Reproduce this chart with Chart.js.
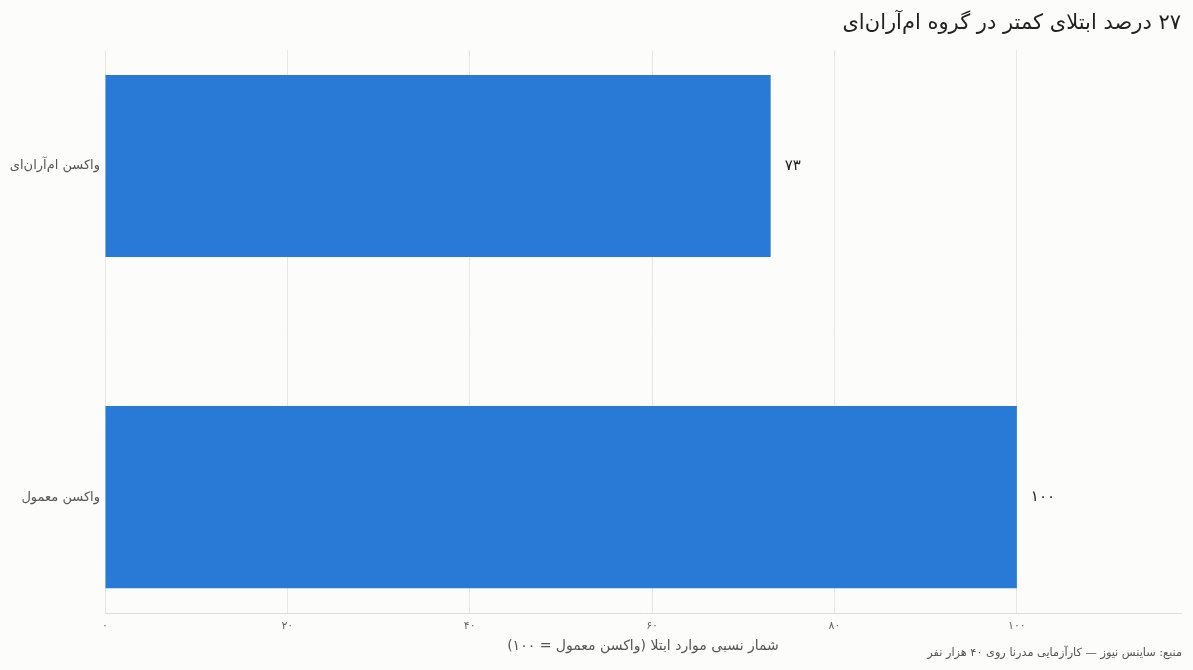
<!DOCTYPE html>
<html lang="fa">
<head>
  <meta charset="UTF-8">
  <title>۲۷ درصد ابتلای کمتر در گروه ام‌آران‌ای</title>
  <script src="https://cdn.jsdelivr.net/npm/chart.js"></script>
  <style>
    html, body {
      margin: 0;
      padding: 0;
      background: #fcfcfb;
      font-family: "DejaVu Sans", sans-serif;
    }
    #wrap {
      width: 1193px;
      height: 670px;
    }
  </style>
</head>
<body>

  <div id="wrap"><canvas id="vaxChart" dir="rtl"></canvas></div>

  <script>
    const categories = ['واکسن ام‌آران‌ای', 'واکسن معمول'];
    const values = [73, 100];
    const valueLabels = ['۷۳', '۱۰۰'];
    const xTickValues = [0, 20, 40, 60, 80, 100];
    const xTickLabels = ['۰', '۲۰', '۴۰', '۶۰', '۸۰', '۱۰۰'];

    const titleText = '۲۷ درصد ابتلای کمتر در گروه ام‌آران‌ای';
    const xTitleText = 'شمار نسبی موارد ابتلا (واکسن معمول = ۱۰۰)';
    const sourceText = 'منبع: ساینس نیوز — کارآزمایی مدرنا روی ۴۰ هزار نفر';

    const FONT = '"DejaVu Sans", sans-serif';

    // number next to the end of each bar
    const valueLabelPlugin = {
      id: 'valueLabels',
      afterDatasetsDraw(chart) {
        const ctx = chart.ctx;
        const meta = chart.getDatasetMeta(0);
        ctx.save();
        ctx.font = '15px ' + FONT;
        ctx.fillStyle = '#222';
        ctx.textAlign = 'left';
        ctx.textBaseline = 'middle';
        meta.data.forEach((bar, i) => {
          ctx.fillText(valueLabels[i], bar.x + 14, bar.y);
        });
        ctx.restore();
      }
    };

    // source line, bottom right
    const sourcePlugin = {
      id: 'sourceNote',
      afterDraw(chart) {
        const ctx = chart.ctx;
        ctx.save();
        ctx.font = '11.3px ' + FONT;
        ctx.fillStyle = '#555';
        ctx.textAlign = 'right';
        ctx.textBaseline = 'middle';
        ctx.fillText(sourceText, chart.width - 11, chart.height - 17);
        ctx.restore();
      }
    };

    const ctx = document.getElementById('vaxChart').getContext('2d');
    new Chart(ctx, {
      type: 'bar',
      data: {
        datasets: [{
          data: values.map((v, i) => ({ x: v, y: i })),
          backgroundColor: '#2979d6',
          borderWidth: 0,
          barPercentage: 0.55,
          categoryPercentage: 1
        }]
      },
      plugins: [valueLabelPlugin, sourcePlugin],
      options: {
        indexAxis: 'y',
        responsive: true,
        maintainAspectRatio: false,
        animation: false,
        layout: { padding: { top: 2, right: 12, bottom: 15, left: 0 } },
        plugins: {
          legend: { display: false },
          tooltip: { enabled: false },
          title: {
            display: true,
            text: titleText,
            align: 'end',
            color: '#222',
            font: { family: FONT, size: 21, weight: 'normal' },
            padding: { top: 9, bottom: 14 }
          }
        },
        scales: {
          x: {
            type: 'linear',
            min: 0,
            max: 118,
            afterBuildTicks: (scale) => {
              scale.ticks = xTickValues.map(v => ({ value: v }));
            },
            ticks: {
              padding: 7,
              color: '#666',
              font: { family: FONT, size: 11 },
              callback: (v) => xTickLabels[xTickValues.indexOf(v)]
            },
            grid: { color: '#e6e6e6', drawTicks: false },
            border: { color: '#dcdcdc' },
            title: {
              display: true,
              text: xTitleText,
              color: '#555',
              font: { family: FONT, size: 14 },
              padding: { top: -2, bottom: 0 }
            }
          },
          y: {
            type: 'linear',
            offset: false,
            min: -0.35,
            max: 1.35,
            reverse: true,
            afterBuildTicks: (scale) => {
              scale.ticks = categories.map((c, i) => ({ value: i }));
            },
            afterFit: (scale) => { scale.width = 105; },
            ticks: {
              padding: 5,
              color: '#555',
              font: { family: FONT, size: 13 },
              callback: (v) => categories[v]
            },
            grid: { display: false, drawTicks: false, offset: false },
            border: { display: false }
          }
        }
      }
    });
  </script>

</body>
</html>
